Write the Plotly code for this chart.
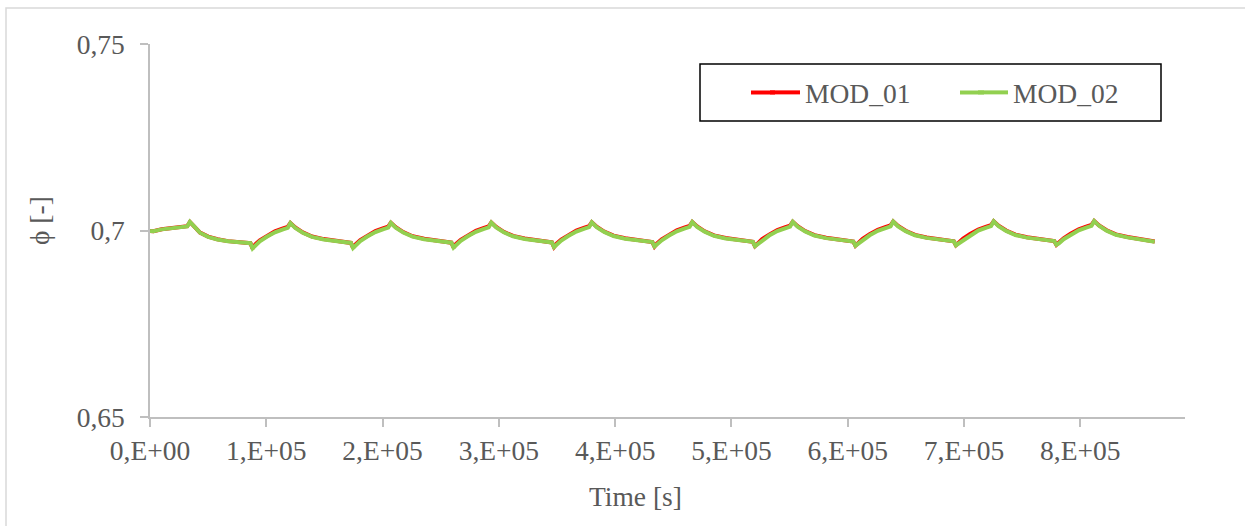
import plotly.graph_objects as go

# ---------------- data ----------------
time_s = [
    0, 3000, 10000, 20000, 30000, 32000, 34300, 38000, 43000, 50000, 58000, 67000, 76000, 84000,
    86400, 88200, 90400, 94400, 100400, 107400, 114400, 118400, 120700, 124900, 131400, 139400, 149400, 160400, 170400,
    172800, 174600, 176800, 180800, 186800, 193800, 200800, 204800, 207100, 211300, 217800, 225800, 235800, 246800, 256800,
    259200, 261000, 263200, 267200, 273200, 280200, 287200, 291200, 293500, 297700, 304200, 312200, 322200, 333200, 343200,
    345600, 347400, 349600, 353600, 359600, 366600, 373600, 377600, 379900, 384100, 390600, 398600, 408600, 419600, 429600,
    432000, 433800, 436000, 440000, 446000, 453000, 460000, 464000, 466300, 470500, 477000, 485000, 495000, 506000, 516000,
    518400, 520200, 522400, 526400, 532400, 539400, 546400, 550400, 552700, 556900, 563400, 571400, 581400, 592400, 602400,
    604800, 606600, 608800, 612800, 618800, 625800, 632800, 636800, 639100, 643300, 649800, 657800, 667800, 678800, 688800,
    691200, 693000, 695200, 699200, 705200, 712200, 719200, 723200, 725500, 729700, 736200, 744200, 754200, 765200, 775200,
    777600, 779400, 781600, 785600, 791600, 798600, 805600, 809600, 811900, 816100, 822600, 830600, 840600, 851600, 861600, 864000,
]

mod_01 = [
    0.6999, 0.6998, 0.70035, 0.70075, 0.70105, 0.70115, 0.7023, 0.70105, 0.69945, 0.69835, 0.69765, 0.69715, 0.69685, 0.6966,
    0.6966, 0.6952, 0.69625, 0.69735, 0.69855, 0.69975, 0.70055, 0.70095, 0.7020, 0.70080, 0.69950, 0.69840, 0.69770, 0.69720, 0.69685,
    0.69667, 0.69532, 0.69632, 0.69742, 0.69862, 0.69982, 0.70062, 0.70102, 0.70207, 0.70087, 0.69957, 0.69847, 0.69777, 0.69727, 0.69692,
    0.69674, 0.69544, 0.69639, 0.69749, 0.69869, 0.69989, 0.70069, 0.70109, 0.70214, 0.70094, 0.69964, 0.69854, 0.69784, 0.69734, 0.69699,
    0.69681, 0.69556, 0.69646, 0.69756, 0.69876, 0.69996, 0.70076, 0.70116, 0.70221, 0.70101, 0.69971, 0.69861, 0.69791, 0.69741, 0.69706,
    0.69688, 0.69568, 0.69653, 0.69763, 0.69883, 0.70003, 0.70083, 0.70123, 0.70228, 0.70108, 0.69978, 0.69868, 0.69798, 0.69748, 0.69713,
    0.69695, 0.69580, 0.69660, 0.69770, 0.69890, 0.70010, 0.70090, 0.70130, 0.70235, 0.70115, 0.69985, 0.69875, 0.69805, 0.69755, 0.69720,
    0.69702, 0.69592, 0.69667, 0.69777, 0.69897, 0.70017, 0.70097, 0.70137, 0.70242, 0.70122, 0.69992, 0.69882, 0.69812, 0.69762, 0.69727,
    0.69709, 0.69604, 0.69674, 0.69784, 0.69904, 0.70024, 0.70104, 0.70144, 0.70249, 0.70129, 0.69999, 0.69889, 0.69819, 0.69769, 0.69734,
    0.69716, 0.69616, 0.69681, 0.69791, 0.69911, 0.70031, 0.70111, 0.70151, 0.70256, 0.70136, 0.70006, 0.69896, 0.69826, 0.69776, 0.69741, 0.69705,
]

mod_02 = [
    0.6999, 0.6998, 0.7003, 0.7007, 0.7010, 0.7011, 0.7023, 0.7010, 0.6994, 0.6983, 0.6976, 0.6971, 0.6968, 0.6966,
    0.6966, 0.6952, 0.6960, 0.6971, 0.6983, 0.6995, 0.7003, 0.7007, 0.7020, 0.7007, 0.6994, 0.6983, 0.6976, 0.6971, 0.6968,
    0.69667, 0.69532, 0.69607, 0.69717, 0.69837, 0.69957, 0.70037, 0.70077, 0.70207, 0.70077, 0.69947, 0.69837, 0.69767, 0.69717, 0.69687,
    0.69674, 0.69544, 0.69614, 0.69724, 0.69844, 0.69964, 0.70044, 0.70084, 0.70214, 0.70084, 0.69954, 0.69844, 0.69774, 0.69724, 0.69694,
    0.69681, 0.69556, 0.69621, 0.69731, 0.69851, 0.69971, 0.70051, 0.70091, 0.70221, 0.70091, 0.69961, 0.69851, 0.69781, 0.69731, 0.69701,
    0.69688, 0.69568, 0.69628, 0.69738, 0.69858, 0.69978, 0.70058, 0.70098, 0.70228, 0.70098, 0.69968, 0.69858, 0.69788, 0.69738, 0.69708,
    0.69695, 0.69580, 0.69635, 0.69745, 0.69865, 0.69985, 0.70065, 0.70105, 0.70235, 0.70105, 0.69975, 0.69865, 0.69795, 0.69745, 0.69715,
    0.69702, 0.69592, 0.69642, 0.69752, 0.69872, 0.69992, 0.70072, 0.70112, 0.70242, 0.70112, 0.69982, 0.69872, 0.69802, 0.69752, 0.69722,
    0.69709, 0.69604, 0.69649, 0.69759, 0.69879, 0.69999, 0.70079, 0.70119, 0.70249, 0.70119, 0.69989, 0.69879, 0.69809, 0.69759, 0.69729,
    0.69716, 0.69616, 0.69656, 0.69766, 0.69886, 0.70006, 0.70086, 0.70126, 0.70256, 0.70126, 0.69996, 0.69886, 0.69816, 0.69766, 0.69736, 0.69700,
]

x_tick_vals = [0, 100000, 200000, 300000, 400000, 500000, 600000, 700000, 800000]
x_tick_text = ["0,E+00", "1,E+05", "2,E+05", "3,E+05", "4,E+05", "5,E+05", "6,E+05", "7,E+05", "8,E+05"]
y_tick_vals = [0.65, 0.70, 0.75]
y_tick_text = ["0,65", "0,7", "0,75"]

series_names = ["MOD_01", "MOD_02"]
series_colors = ["#ff0000", "#92d050"]

# ---------------- figure ----------------
W, H = 1245, 526
L, R, T, B = 150, 1185, 44, 417   # plot area in pixels
FONT = "Liberation Serif"
GREY = "#595959"
AXIS = "#bfbfbf"
LW = 4


def px(xp):
    return (xp - L) / (R - L)


def py(yp):
    return (B - yp) / (B - T)


fig = go.Figure()
fig.add_trace(go.Scatter(x=time_s, y=mod_01, mode="lines", name=series_names[0],
                         line=dict(color=series_colors[0], width=LW)))
fig.add_trace(go.Scatter(x=time_s, y=mod_02, mode="lines", name=series_names[1],
                         line=dict(color=series_colors[1], width=LW)))

legend_y = 92.5
shapes = [
    # outer chart frame
    dict(type="rect", xref="paper", yref="paper",
         x0=px(6), x1=px(1300), y0=py(560), y1=py(8),
         line=dict(color="#d9d9d9", width=1.5), fillcolor="rgba(0,0,0,0)", layer="below"),
    # legend box
    dict(type="rect", xref="paper", yref="paper",
         x0=px(700), x1=px(1161), y0=py(121), y1=py(64),
         line=dict(color="#000000", width=1.5), fillcolor="white", layer="above"),
    # longer legend swatches (extend the native 30px sample lines leftwards)
    dict(type="line", xref="paper", yref="paper",
         x0=px(751), x1=px(775), y0=py(legend_y), y1=py(legend_y),
         line=dict(color=series_colors[0], width=LW), layer="above"),
    dict(type="line", xref="paper", yref="paper",
         x0=px(960), x1=px(984), y0=py(legend_y), y1=py(legend_y),
         line=dict(color=series_colors[1], width=LW), layer="above"),
]

fig.update_layout(
    width=W, height=H,
    margin=dict(l=L, r=W - R, t=T, b=H - B, pad=0),
    paper_bgcolor="white", plot_bgcolor="white",
    font=dict(family=FONT, size=27, color=GREY),
    showlegend=True,
    legend=dict(
        orientation="h", x=px(765), y=py(legend_y), xanchor="left", yanchor="middle",
        bgcolor="rgba(0,0,0,0)", borderwidth=0,
        font=dict(family=FONT, size=27.5, color=GREY),
        entrywidth=163, entrywidthmode="pixels", itemwidth=30,
    ),
    xaxis=dict(
        range=[0, 890000], tickvals=x_tick_vals, ticktext=x_tick_text,
        showgrid=False, zeroline=False, showline=True, linecolor=AXIS, linewidth=1.5,
        ticks="outside", ticklen=8, tickcolor=AXIS, tickwidth=1.5,
        tickfont=dict(family=FONT, size=27.5, color=GREY),
    ),
    yaxis=dict(
        range=[0.65, 0.75], tickvals=y_tick_vals, ticktext=y_tick_text,
        showgrid=False, zeroline=False, showline=True, linecolor=AXIS, linewidth=1.5,
        ticks="outside", ticklen=8, tickcolor=AXIS, tickwidth=1.5,
        tickfont=dict(family=FONT, size=27.5, color=GREY),
        ticklabelstandoff=10,
    ),
    shapes=shapes,
    annotations=[
        dict(text="Time [s]", xref="paper", yref="paper", x=px(635), y=py(497),
             xanchor="center", yanchor="middle", showarrow=False,
             font=dict(family=FONT, size=27.5, color=GREY)),
        dict(text="ϕ [-]", xref="paper", yref="paper", x=px(39), y=py(221),
             xanchor="center", yanchor="middle", showarrow=False, textangle=-90,
             font=dict(family=FONT, size=27.5, color=GREY)),
    ],
)

fig.write_html("out.html")
